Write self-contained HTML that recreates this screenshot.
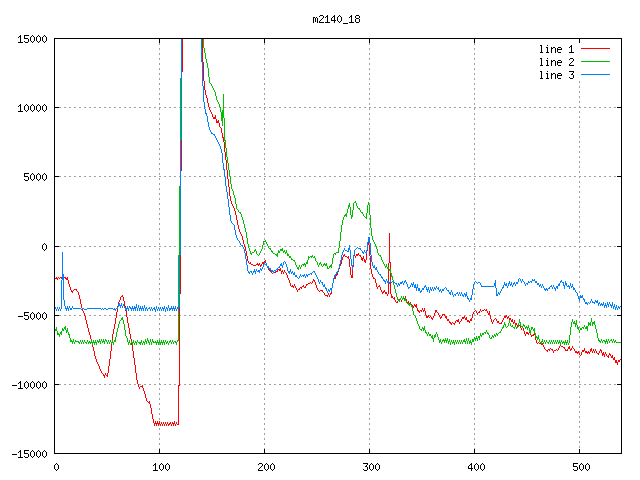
<!DOCTYPE html>
<html><head><meta charset="utf-8"><title>m2140_18</title>
<style>html,body{margin:0;padding:0;background:#ffffff;font-family:"Liberation Sans",sans-serif}svg{display:block}</style>
</head><body><svg width="640" height="480" viewBox="0 0 640 480" shape-rendering="crispEdges"><path fill="#a0a0a0" d="M264 43h1v2h-1zM369 43h1v2h-1zM474 43h1v2h-1zM159 43h1v2h-1zM264 48h1v2h-1zM369 48h1v2h-1zM474 48h1v2h-1zM159 48h1v2h-1zM264 53h1v2h-1zM369 53h1v2h-1zM474 53h1v2h-1zM159 53h1v2h-1zM264 58h1v2h-1zM369 58h1v2h-1zM474 58h1v2h-1zM159 58h1v2h-1zM264 63h1v2h-1zM369 63h1v2h-1zM474 63h1v2h-1zM159 63h1v2h-1zM264 68h1v2h-1zM369 68h1v2h-1zM474 68h1v2h-1zM159 68h1v2h-1zM264 73h1v2h-1zM369 73h1v2h-1zM474 73h1v2h-1zM159 73h1v2h-1zM264 78h1v2h-1zM369 78h1v2h-1zM474 78h1v2h-1zM159 78h1v2h-1zM579 81h1v2h-1zM264 83h1v2h-1zM369 83h1v2h-1zM474 83h1v2h-1zM159 83h1v2h-1zM579 86h1v2h-1zM264 88h1v2h-1zM369 88h1v2h-1zM474 88h1v2h-1zM159 88h1v2h-1zM579 91h1v2h-1zM264 93h1v2h-1zM369 93h1v2h-1zM474 93h1v2h-1zM159 93h1v2h-1zM579 96h1v2h-1zM264 98h1v2h-1zM369 98h1v2h-1zM474 98h1v2h-1zM159 98h1v2h-1zM579 101h1v2h-1zM264 103h1v2h-1zM369 103h1v2h-1zM474 103h1v2h-1zM159 103h1v2h-1zM579 106h1v1h-1zM454 107h2v1h-2zM509 107h2v1h-2zM519 107h2v1h-2zM574 107h2v1h-2zM234 107h2v1h-2zM244 107h2v1h-2zM299 107h2v1h-2zM79 107h2v1h-2zM359 107h2v1h-2zM369 107h2v1h-2zM424 107h2v1h-2zM484 107h2v1h-2zM94 107h2v1h-2zM149 107h2v1h-2zM214 107h2v1h-2zM494 107h2v1h-2zM549 107h2v1h-2zM554 107h2v1h-2zM609 107h2v1h-2zM274 107h2v1h-2zM339 107h2v1h-2zM334 107h2v1h-2zM389 107h2v1h-2zM399 107h2v1h-2zM64 107h2v1h-2zM119 107h2v1h-2zM59 107h2v1h-2zM124 107h2v1h-2zM210 107h1v1h-1zM404 107h2v1h-2zM459 107h2v1h-2zM514 107h2v1h-2zM524 107h2v1h-2zM579 107h2v1h-2zM189 107h2v1h-2zM184 107h2v1h-2zM249 107h2v1h-2zM304 107h2v1h-2zM84 107h2v1h-2zM584 107h2v1h-2zM594 107h2v1h-2zM314 107h2v1h-2zM319 107h2v1h-2zM374 107h2v1h-2zM429 107h2v1h-2zM489 107h2v1h-2zM99 107h2v1h-2zM154 107h2v1h-2zM164 107h2v1h-2zM499 107h2v1h-2zM559 107h2v1h-2zM614 107h2v1h-2zM279 107h2v1h-2zM224 107h2v1h-2zM344 107h2v1h-2zM289 107h2v1h-2zM284 107h2v1h-2zM69 107h2v1h-2zM129 107h2v1h-2zM205 107h1v1h-1zM469 107h2v1h-2zM409 107h2v1h-2zM464 107h2v1h-2zM474 107h2v1h-2zM529 107h2v1h-2zM139 107h2v1h-2zM194 107h2v1h-2zM134 107h2v1h-2zM254 107h2v1h-2zM309 107h2v1h-2zM179 107h1v1h-1zM589 107h2v1h-2zM599 107h2v1h-2zM324 107h2v1h-2zM379 107h2v1h-2zM434 107h2v1h-2zM444 107h2v1h-2zM439 107h2v1h-2zM104 107h2v1h-2zM159 107h2v1h-2zM169 107h2v1h-2zM449 107h2v1h-2zM504 107h2v1h-2zM569 107h2v1h-2zM564 107h2v1h-2zM219 107h1v1h-1zM229 107h2v1h-2zM239 107h2v1h-2zM294 107h2v1h-2zM349 107h2v1h-2zM354 107h2v1h-2zM74 107h2v1h-2zM364 107h2v1h-2zM419 107h2v1h-2zM414 107h2v1h-2zM479 107h2v1h-2zM534 107h2v1h-2zM144 107h2v1h-2zM89 107h2v1h-2zM199 107h2v1h-2zM264 107h2v1h-2zM259 107h2v1h-2zM544 107h2v1h-2zM539 107h2v1h-2zM604 107h2v1h-2zM269 107h2v1h-2zM329 107h2v1h-2zM384 107h2v1h-2zM394 107h2v1h-2zM114 107h2v1h-2zM109 107h2v1h-2zM174 107h2v1h-2zM264 108h1v2h-1zM369 108h1v2h-1zM474 108h1v2h-1zM159 108h1v2h-1zM579 111h1v2h-1zM264 113h1v2h-1zM369 113h1v2h-1zM474 113h1v2h-1zM159 113h1v2h-1zM579 116h1v2h-1zM264 118h1v2h-1zM369 118h1v2h-1zM474 118h1v2h-1zM159 118h1v2h-1zM579 121h1v2h-1zM264 123h1v2h-1zM369 123h1v2h-1zM474 123h1v2h-1zM159 123h1v2h-1zM579 126h1v2h-1zM264 128h1v2h-1zM369 128h1v2h-1zM474 128h1v2h-1zM159 128h1v2h-1zM579 131h1v2h-1zM264 133h1v2h-1zM369 133h1v2h-1zM474 133h1v2h-1zM159 133h1v2h-1zM579 136h1v2h-1zM264 138h1v2h-1zM369 138h1v2h-1zM474 138h1v2h-1zM159 138h1v2h-1zM579 141h1v2h-1zM264 143h1v2h-1zM369 143h1v2h-1zM474 143h1v2h-1zM159 143h1v2h-1zM579 146h1v2h-1zM264 148h1v2h-1zM369 148h1v2h-1zM474 148h1v2h-1zM159 148h1v2h-1zM579 151h1v2h-1zM264 153h1v2h-1zM369 153h1v2h-1zM474 153h1v2h-1zM159 153h1v2h-1zM579 156h1v2h-1zM264 158h1v2h-1zM369 158h1v2h-1zM474 158h1v2h-1zM159 158h1v2h-1zM579 161h1v2h-1zM264 163h1v2h-1zM369 163h1v2h-1zM474 163h1v2h-1zM159 163h1v2h-1zM579 166h1v2h-1zM264 168h1v2h-1zM369 168h1v2h-1zM474 168h1v2h-1zM159 168h1v2h-1zM579 171h1v2h-1zM264 173h1v2h-1zM369 173h1v2h-1zM474 173h1v2h-1zM159 173h1v2h-1zM454 176h2v1h-2zM509 176h2v1h-2zM519 176h2v1h-2zM574 176h2v1h-2zM234 176h2v1h-2zM244 176h2v1h-2zM299 176h2v1h-2zM79 176h2v1h-2zM229 176h1v1h-1zM359 176h2v1h-2zM369 176h2v1h-2zM424 176h2v1h-2zM225 176h1v1h-1zM484 176h2v1h-2zM94 176h2v1h-2zM149 176h2v1h-2zM214 176h2v1h-2zM209 176h2v1h-2zM494 176h2v1h-2zM549 176h2v1h-2zM554 176h2v1h-2zM609 176h2v1h-2zM274 176h2v1h-2zM339 176h2v1h-2zM334 176h2v1h-2zM389 176h2v1h-2zM399 176h2v1h-2zM64 176h2v1h-2zM119 176h2v1h-2zM59 176h2v1h-2zM124 176h2v1h-2zM404 176h2v1h-2zM459 176h2v1h-2zM514 176h2v1h-2zM524 176h2v1h-2zM579 176h2v1h-2zM189 176h2v1h-2zM184 176h2v1h-2zM249 176h2v1h-2zM304 176h2v1h-2zM84 176h2v1h-2zM584 176h2v1h-2zM594 176h2v1h-2zM314 176h2v1h-2zM319 176h2v1h-2zM374 176h2v1h-2zM429 176h2v1h-2zM489 176h2v1h-2zM99 176h2v1h-2zM154 176h2v1h-2zM164 176h2v1h-2zM219 176h2v1h-2zM499 176h2v1h-2zM559 176h2v1h-2zM614 176h2v1h-2zM279 176h2v1h-2zM344 176h2v1h-2zM289 176h2v1h-2zM284 176h2v1h-2zM69 176h2v1h-2zM129 176h2v1h-2zM469 176h2v1h-2zM409 176h2v1h-2zM464 176h2v1h-2zM474 176h2v1h-2zM529 176h2v1h-2zM139 176h2v1h-2zM194 176h2v1h-2zM134 176h2v1h-2zM254 176h2v1h-2zM309 176h2v1h-2zM179 176h1v1h-1zM589 176h2v1h-2zM599 176h2v1h-2zM324 176h2v1h-2zM379 176h2v1h-2zM434 176h2v1h-2zM444 176h2v1h-2zM439 176h2v1h-2zM104 176h2v1h-2zM159 176h2v1h-2zM169 176h2v1h-2zM449 176h2v1h-2zM504 176h2v1h-2zM569 176h2v1h-2zM564 176h2v1h-2zM239 176h2v1h-2zM294 176h2v1h-2zM349 176h2v1h-2zM354 176h2v1h-2zM74 176h2v1h-2zM364 176h2v1h-2zM419 176h2v1h-2zM414 176h2v1h-2zM479 176h2v1h-2zM534 176h2v1h-2zM144 176h2v1h-2zM89 176h2v1h-2zM199 176h2v1h-2zM264 176h2v1h-2zM204 176h2v1h-2zM259 176h2v1h-2zM544 176h2v1h-2zM539 176h2v1h-2zM604 176h2v1h-2zM269 176h2v1h-2zM329 176h2v1h-2zM384 176h2v1h-2zM394 176h2v1h-2zM114 176h2v1h-2zM109 176h2v1h-2zM174 176h2v1h-2zM579 177h1v1h-1zM264 178h1v2h-1zM369 178h1v2h-1zM474 178h1v2h-1zM159 178h1v2h-1zM579 181h1v2h-1zM264 183h1v2h-1zM369 183h1v2h-1zM474 183h1v2h-1zM159 183h1v2h-1zM579 186h1v2h-1zM264 188h1v2h-1zM369 188h1v2h-1zM474 188h1v2h-1zM159 188h1v2h-1zM579 191h1v2h-1zM264 193h1v2h-1zM369 193h1v2h-1zM474 193h1v2h-1zM159 193h1v2h-1zM579 196h1v2h-1zM264 198h1v2h-1zM369 198h1v2h-1zM474 198h1v2h-1zM159 198h1v2h-1zM579 201h1v2h-1zM264 203h1v2h-1zM369 203h1v2h-1zM474 203h1v2h-1zM159 203h1v2h-1zM579 206h1v2h-1zM264 208h1v2h-1zM474 208h1v2h-1zM159 208h1v2h-1zM579 211h1v2h-1zM264 213h1v2h-1zM474 213h1v2h-1zM159 213h1v2h-1zM579 216h1v2h-1zM264 218h1v2h-1zM369 218h1v2h-1zM474 218h1v2h-1zM159 218h1v2h-1zM579 221h1v2h-1zM264 223h1v2h-1zM369 223h1v2h-1zM474 223h1v2h-1zM159 223h1v2h-1zM579 226h1v2h-1zM264 228h1v2h-1zM369 228h1v2h-1zM474 228h1v2h-1zM159 228h1v2h-1zM579 231h1v2h-1zM264 233h1v2h-1zM369 233h1v2h-1zM474 233h1v2h-1zM159 233h1v2h-1zM579 236h1v2h-1zM264 238h1v2h-1zM474 238h1v2h-1zM159 238h1v2h-1zM579 241h1v2h-1zM264 243h1v2h-1zM369 243h1v2h-1zM474 243h1v2h-1zM159 243h1v2h-1zM454 246h2v1h-2zM509 246h2v1h-2zM519 246h2v1h-2zM574 246h2v1h-2zM234 246h2v1h-2zM299 246h2v1h-2zM79 246h2v1h-2zM359 246h2v1h-2zM424 246h2v1h-2zM484 246h2v1h-2zM94 246h2v1h-2zM149 246h2v1h-2zM214 246h2v1h-2zM209 246h2v1h-2zM494 246h2v1h-2zM549 246h2v1h-2zM350 246h1v1h-1zM554 246h2v1h-2zM609 246h2v1h-2zM274 246h2v1h-2zM334 246h2v1h-2zM399 246h2v1h-2zM64 246h2v1h-2zM119 246h2v1h-2zM59 246h2v1h-2zM124 246h2v1h-2zM404 246h2v1h-2zM459 246h2v1h-2zM514 246h2v1h-2zM524 246h2v1h-2zM579 246h2v1h-2zM189 246h2v1h-2zM184 246h2v1h-2zM249 246h2v1h-2zM304 246h2v1h-2zM390 246h1v1h-1zM84 246h2v1h-2zM584 246h2v1h-2zM594 246h2v1h-2zM314 246h2v1h-2zM319 246h2v1h-2zM374 246h2v1h-2zM429 246h2v1h-2zM489 246h2v1h-2zM99 246h2v1h-2zM154 246h2v1h-2zM164 246h2v1h-2zM219 246h2v1h-2zM499 246h2v1h-2zM559 246h2v1h-2zM614 246h2v1h-2zM279 246h2v1h-2zM224 246h2v1h-2zM344 246h2v1h-2zM289 246h2v1h-2zM284 246h2v1h-2zM69 246h2v1h-2zM129 246h2v1h-2zM469 246h2v1h-2zM409 246h2v1h-2zM464 246h2v1h-2zM474 246h2v1h-2zM529 246h2v1h-2zM139 246h2v1h-2zM194 246h2v1h-2zM134 246h2v1h-2zM254 246h2v1h-2zM309 246h2v1h-2zM340 246h1v1h-1zM589 246h2v1h-2zM599 246h2v1h-2zM324 246h2v1h-2zM379 246h2v1h-2zM434 246h2v1h-2zM444 246h2v1h-2zM245 246h1v1h-1zM439 246h2v1h-2zM104 246h2v1h-2zM159 246h2v1h-2zM169 246h2v1h-2zM449 246h2v1h-2zM504 246h2v1h-2zM569 246h2v1h-2zM564 246h2v1h-2zM229 246h2v1h-2zM239 246h2v1h-2zM294 246h2v1h-2zM354 246h2v1h-2zM74 246h2v1h-2zM364 246h2v1h-2zM419 246h2v1h-2zM414 246h2v1h-2zM479 246h2v1h-2zM534 246h2v1h-2zM144 246h2v1h-2zM89 246h2v1h-2zM199 246h2v1h-2zM264 246h2v1h-2zM204 246h2v1h-2zM259 246h2v1h-2zM544 246h2v1h-2zM539 246h2v1h-2zM604 246h2v1h-2zM269 246h2v1h-2zM329 246h2v1h-2zM384 246h2v1h-2zM394 246h2v1h-2zM114 246h2v1h-2zM109 246h2v1h-2zM174 246h2v1h-2zM579 247h1v1h-1zM264 248h1v2h-1zM474 248h1v2h-1zM159 248h1v2h-1zM579 251h1v2h-1zM264 253h1v2h-1zM474 253h1v2h-1zM159 253h1v2h-1zM579 256h1v2h-1zM264 258h1v2h-1zM369 258h1v2h-1zM474 258h1v2h-1zM159 258h1v2h-1zM579 261h1v2h-1zM369 263h1v2h-1zM474 263h1v2h-1zM159 263h1v2h-1zM264 264h1v1h-1zM579 266h1v2h-1zM264 268h1v2h-1zM369 268h1v2h-1zM474 268h1v2h-1zM159 268h1v2h-1zM579 271h1v2h-1zM264 273h1v2h-1zM369 273h1v2h-1zM474 273h1v2h-1zM159 273h1v2h-1zM579 276h1v2h-1zM264 278h1v2h-1zM369 278h1v2h-1zM474 278h1v2h-1zM159 278h1v2h-1zM579 281h1v2h-1zM264 283h1v2h-1zM369 283h1v2h-1zM159 283h1v2h-1zM474 284h1v1h-1zM579 286h1v2h-1zM264 288h1v2h-1zM369 288h1v2h-1zM474 288h1v2h-1zM159 288h1v2h-1zM579 291h1v2h-1zM264 293h1v2h-1zM369 293h1v2h-1zM474 293h1v2h-1zM159 293h1v2h-1zM579 296h1v2h-1zM264 298h1v2h-1zM369 298h1v2h-1zM474 298h1v2h-1zM159 298h1v2h-1zM579 301h1v2h-1zM264 303h1v2h-1zM369 303h1v2h-1zM474 303h1v2h-1zM159 303h1v2h-1zM579 306h1v2h-1zM159 308h1v1h-1zM264 308h1v2h-1zM369 308h1v2h-1zM474 308h1v2h-1zM579 311h1v2h-1zM264 313h1v2h-1zM369 313h1v2h-1zM474 313h1v2h-1zM159 313h1v2h-1zM489 315h1v1h-1zM454 315h2v1h-2zM509 315h2v1h-2zM519 315h2v1h-2zM574 315h2v1h-2zM234 315h2v1h-2zM244 315h2v1h-2zM299 315h2v1h-2zM79 315h2v1h-2zM445 315h1v1h-1zM359 315h2v1h-2zM369 315h2v1h-2zM424 315h2v1h-2zM484 315h2v1h-2zM94 315h2v1h-2zM149 315h2v1h-2zM214 315h2v1h-2zM209 315h2v1h-2zM494 315h2v1h-2zM549 315h2v1h-2zM415 315h1v1h-1zM554 315h2v1h-2zM609 315h2v1h-2zM274 315h2v1h-2zM339 315h2v1h-2zM85 315h1v1h-1zM334 315h2v1h-2zM389 315h2v1h-2zM399 315h2v1h-2zM64 315h2v1h-2zM119 315h2v1h-2zM59 315h2v1h-2zM124 315h2v1h-2zM404 315h2v1h-2zM459 315h2v1h-2zM514 315h2v1h-2zM524 315h2v1h-2zM579 315h2v1h-2zM189 315h2v1h-2zM184 315h2v1h-2zM249 315h2v1h-2zM304 315h2v1h-2zM584 315h2v1h-2zM594 315h2v1h-2zM314 315h2v1h-2zM319 315h2v1h-2zM374 315h2v1h-2zM429 315h2v1h-2zM99 315h2v1h-2zM154 315h2v1h-2zM164 315h2v1h-2zM219 315h2v1h-2zM499 315h2v1h-2zM559 315h2v1h-2zM614 315h2v1h-2zM279 315h2v1h-2zM224 315h2v1h-2zM344 315h2v1h-2zM289 315h2v1h-2zM284 315h2v1h-2zM69 315h2v1h-2zM435 315h1v1h-1zM129 315h2v1h-2zM469 315h2v1h-2zM409 315h2v1h-2zM464 315h2v1h-2zM474 315h2v1h-2zM529 315h2v1h-2zM139 315h2v1h-2zM194 315h2v1h-2zM134 315h2v1h-2zM254 315h2v1h-2zM309 315h2v1h-2zM589 315h2v1h-2zM599 315h2v1h-2zM324 315h2v1h-2zM379 315h2v1h-2zM180 315h1v1h-1zM104 315h2v1h-2zM159 315h2v1h-2zM169 315h2v1h-2zM449 315h2v1h-2zM504 315h2v1h-2zM569 315h2v1h-2zM564 315h2v1h-2zM229 315h2v1h-2zM239 315h2v1h-2zM294 315h2v1h-2zM349 315h2v1h-2zM354 315h2v1h-2zM74 315h2v1h-2zM440 315h1v1h-1zM364 315h2v1h-2zM419 315h2v1h-2zM479 315h2v1h-2zM534 315h2v1h-2zM144 315h2v1h-2zM89 315h2v1h-2zM199 315h2v1h-2zM264 315h2v1h-2zM204 315h2v1h-2zM259 315h2v1h-2zM544 315h2v1h-2zM539 315h2v1h-2zM604 315h2v1h-2zM269 315h2v1h-2zM329 315h2v1h-2zM384 315h2v1h-2zM394 315h2v1h-2zM114 315h2v1h-2zM109 315h2v1h-2zM174 315h2v1h-2zM579 316h1v2h-1zM264 318h1v2h-1zM369 318h1v2h-1zM474 318h1v2h-1zM159 318h1v2h-1zM579 321h1v2h-1zM264 323h1v2h-1zM369 323h1v2h-1zM474 323h1v2h-1zM159 323h1v2h-1zM579 326h1v2h-1zM264 328h1v2h-1zM369 328h1v2h-1zM474 328h1v2h-1zM159 328h1v2h-1zM264 333h1v2h-1zM369 333h1v2h-1zM474 333h1v2h-1zM159 333h1v2h-1zM579 336h1v2h-1zM264 338h1v2h-1zM369 338h1v2h-1zM159 338h1v2h-1zM474 339h1v1h-1zM579 341h1v2h-1zM264 343h1v2h-1zM369 343h1v2h-1zM474 343h1v2h-1zM159 343h1v2h-1zM579 346h1v2h-1zM264 348h1v2h-1zM369 348h1v2h-1zM474 348h1v2h-1zM159 348h1v2h-1zM579 351h1v2h-1zM264 353h1v2h-1zM369 353h1v2h-1zM474 353h1v2h-1zM159 353h1v2h-1zM579 356h1v2h-1zM264 358h1v2h-1zM369 358h1v2h-1zM474 358h1v2h-1zM159 358h1v2h-1zM579 361h1v2h-1zM264 363h1v2h-1zM369 363h1v2h-1zM474 363h1v2h-1zM159 363h1v2h-1zM579 366h1v2h-1zM264 368h1v2h-1zM369 368h1v2h-1zM474 368h1v2h-1zM159 368h1v2h-1zM579 371h1v2h-1zM264 373h1v2h-1zM369 373h1v2h-1zM474 373h1v2h-1zM159 373h1v2h-1zM579 376h1v2h-1zM264 378h1v2h-1zM369 378h1v2h-1zM474 378h1v2h-1zM159 378h1v2h-1zM579 381h1v2h-1zM264 383h1v1h-1zM369 383h1v1h-1zM474 383h1v1h-1zM159 383h1v1h-1zM454 384h2v1h-2zM509 384h2v1h-2zM519 384h2v1h-2zM574 384h2v1h-2zM234 384h2v1h-2zM244 384h2v1h-2zM299 384h2v1h-2zM79 384h2v1h-2zM359 384h2v1h-2zM369 384h2v1h-2zM424 384h2v1h-2zM484 384h2v1h-2zM94 384h2v1h-2zM149 384h2v1h-2zM214 384h2v1h-2zM209 384h2v1h-2zM494 384h2v1h-2zM549 384h2v1h-2zM554 384h2v1h-2zM609 384h2v1h-2zM274 384h2v1h-2zM339 384h2v1h-2zM334 384h2v1h-2zM389 384h2v1h-2zM399 384h2v1h-2zM64 384h2v1h-2zM119 384h2v1h-2zM59 384h2v1h-2zM124 384h2v1h-2zM404 384h2v1h-2zM459 384h2v1h-2zM514 384h2v1h-2zM524 384h2v1h-2zM579 384h2v1h-2zM189 384h2v1h-2zM184 384h2v1h-2zM249 384h2v1h-2zM304 384h2v1h-2zM84 384h2v1h-2zM584 384h2v1h-2zM594 384h2v1h-2zM314 384h2v1h-2zM319 384h2v1h-2zM374 384h2v1h-2zM429 384h2v1h-2zM489 384h2v1h-2zM99 384h2v1h-2zM154 384h2v1h-2zM164 384h2v1h-2zM219 384h2v1h-2zM499 384h2v1h-2zM559 384h2v1h-2zM614 384h2v1h-2zM279 384h2v1h-2zM224 384h2v1h-2zM344 384h2v1h-2zM289 384h2v1h-2zM284 384h2v1h-2zM69 384h2v1h-2zM129 384h2v1h-2zM469 384h2v1h-2zM409 384h2v1h-2zM464 384h2v1h-2zM474 384h2v1h-2zM529 384h2v1h-2zM139 384h2v1h-2zM194 384h2v1h-2zM134 384h2v1h-2zM254 384h2v1h-2zM309 384h2v1h-2zM589 384h2v1h-2zM599 384h2v1h-2zM324 384h2v1h-2zM379 384h2v1h-2zM180 384h1v1h-1zM434 384h2v1h-2zM444 384h2v1h-2zM439 384h2v1h-2zM104 384h2v1h-2zM159 384h2v1h-2zM169 384h2v1h-2zM449 384h2v1h-2zM504 384h2v1h-2zM569 384h2v1h-2zM564 384h2v1h-2zM229 384h2v1h-2zM239 384h2v1h-2zM294 384h2v1h-2zM349 384h2v1h-2zM354 384h2v1h-2zM74 384h2v1h-2zM364 384h2v1h-2zM419 384h2v1h-2zM414 384h2v1h-2zM479 384h2v1h-2zM534 384h2v1h-2zM144 384h2v1h-2zM89 384h2v1h-2zM199 384h2v1h-2zM264 384h2v1h-2zM204 384h2v1h-2zM259 384h2v1h-2zM544 384h2v1h-2zM539 384h2v1h-2zM604 384h2v1h-2zM269 384h2v1h-2zM329 384h2v1h-2zM384 384h2v1h-2zM394 384h2v1h-2zM114 384h2v1h-2zM109 384h2v1h-2zM174 384h2v1h-2zM579 386h1v2h-1zM264 388h1v2h-1zM369 388h1v2h-1zM474 388h1v2h-1zM159 388h1v2h-1zM579 391h1v2h-1zM264 393h1v2h-1zM369 393h1v2h-1zM474 393h1v2h-1zM159 393h1v2h-1zM579 396h1v2h-1zM264 398h1v2h-1zM369 398h1v2h-1zM474 398h1v2h-1zM159 398h1v2h-1zM579 401h1v2h-1zM264 403h1v2h-1zM369 403h1v2h-1zM474 403h1v2h-1zM159 403h1v2h-1zM579 406h1v2h-1zM264 408h1v2h-1zM369 408h1v2h-1zM474 408h1v2h-1zM159 408h1v2h-1zM579 411h1v2h-1zM264 413h1v2h-1zM369 413h1v2h-1zM474 413h1v2h-1zM159 413h1v2h-1zM579 416h1v2h-1zM264 418h1v2h-1zM369 418h1v2h-1zM474 418h1v2h-1zM159 418h1v2h-1zM579 421h1v2h-1zM264 423h1v2h-1zM369 423h1v2h-1zM474 423h1v2h-1zM159 424h1v1h-1zM579 426h1v2h-1zM264 428h1v2h-1zM369 428h1v2h-1zM474 428h1v2h-1zM159 428h1v2h-1zM579 431h1v2h-1zM264 433h1v2h-1zM369 433h1v2h-1zM474 433h1v2h-1zM159 433h1v2h-1zM579 436h1v2h-1zM264 438h1v2h-1zM369 438h1v2h-1zM474 438h1v2h-1zM159 438h1v2h-1zM579 441h1v2h-1zM264 443h1v2h-1zM369 443h1v2h-1zM474 443h1v2h-1zM159 443h1v2h-1zM579 446h1v2h-1zM264 448h1v1h-1zM369 448h1v1h-1zM474 448h1v1h-1zM159 448h1v1h-1z"/><path fill="#ff0000" d="M581 48h29v1h-29zM202 39h1v23h-1zM182 39h1v33h-1zM203 62h1v19h-1zM204 81h1v9h-1zM205 90h1v5h-1zM206 95h1v3h-1zM207 98h1v5h-1zM208 103h1v4h-1zM209 107h1v3h-1zM210 110h1v2h-1zM211 112h1v2h-1zM212 114h1v3h-1zM215 115h1v2h-1zM213 117h3v2h-3zM216 119h1v2h-1zM218 120h1v1h-1zM216 121h3v2h-3zM219 123h1v4h-1zM220 127h1v1h-1zM221 128h1v5h-1zM222 133h1v4h-1zM222 137h2v1h-2zM223 138h1v4h-1zM224 142h1v10h-1zM225 152h1v8h-1zM226 160h1v10h-1zM181 140h1v31h-1zM227 170h1v9h-1zM228 179h1v8h-1zM229 187h1v9h-1zM230 196h1v5h-1zM231 201h1v3h-1zM232 204h1v2h-1zM233 206h1v2h-1zM234 208h1v3h-1zM235 211h1v4h-1zM236 215h1v5h-1zM237 220h1v5h-1zM238 225h1v4h-1zM239 229h1v3h-1zM240 232h1v2h-1zM241 234h1v2h-1zM242 236h1v4h-1zM243 240h1v4h-1zM368 242h1v3h-1zM244 244h1v3h-1zM245 247h1v4h-1zM367 250h1v1h-1zM358 253h1v1h-1zM344 254h1v1h-1zM356 254h3v1h-3zM369 245h1v11h-1zM246 251h1v5h-1zM354 255h1v1h-1zM356 255h2v1h-2zM343 255h2v1h-2zM359 255h2v1h-2zM343 256h1v1h-1zM360 256h1v1h-1zM345 256h2v1h-2zM348 256h1v1h-1zM363 256h1v2h-1zM355 256h1v2h-1zM361 257h1v1h-1zM347 257h2v1h-2zM361 258h3v1h-3zM348 258h1v1h-1zM366 254h1v6h-1zM342 257h1v3h-1zM361 259h2v1h-2zM364 259h1v1h-1zM247 256h1v5h-1zM362 260h1v1h-1zM265 260h1v1h-1zM389 233h1v29h-1zM364 260h2v2h-2zM264 261h2v1h-2zM248 261h1v2h-1zM365 262h1v1h-1zM265 262h1v1h-1zM389 262h2v1h-2zM250 262h1v1h-1zM341 260h1v4h-1zM262 262h2v2h-2zM249 263h2v1h-2zM257 263h1v1h-1zM259 263h1v1h-1zM251 264h2v1h-2zM256 264h4v1h-4zM261 264h1v1h-1zM340 264h1v2h-1zM260 265h2v1h-2zM253 265h3v1h-3zM258 265h1v1h-1zM349 259h1v8h-1zM388 263h1v4h-1zM353 265h1v2h-1zM260 266h1v1h-1zM370 256h1v13h-1zM390 263h1v6h-1zM339 268h1v1h-1zM280 268h1v1h-1zM268 268h1v2h-1zM278 269h3v1h-3zM269 270h2v1h-2zM277 270h1v1h-1zM282 270h1v1h-1zM279 270h2v1h-2zM284 270h1v2h-1zM270 271h1v1h-1zM281 271h2v1h-2zM338 271h1v1h-1zM276 271h2v1h-2zM274 272h2v1h-2zM285 272h1v1h-1zM271 272h1v1h-1zM371 269h1v5h-1zM283 272h1v2h-1zM281 272h1v2h-1zM272 273h1v1h-1zM337 273h1v1h-1zM350 267h1v8h-1zM352 270h1v5h-1zM286 273h1v2h-1zM336 274h2v1h-2zM336 275h1v1h-1zM372 274h1v3h-1zM351 275h2v3h-2zM287 275h1v3h-1zM335 276h1v2h-1zM64 277h2v1h-2zM67 277h1v1h-1zM58 277h1v1h-1zM373 277h1v1h-1zM60 277h2v1h-2zM56 277h1v1h-1zM61 278h1v1h-1zM65 278h3v1h-3zM59 278h1v1h-1zM55 278h3v1h-3zM334 278h2v1h-2zM373 278h2v1h-2zM390 273h1v7h-1zM288 278h1v2h-1zM66 279h2v1h-2zM57 279h1v1h-1zM313 279h1v1h-1zM388 269h1v12h-1zM313 280h2v1h-2zM314 281h1v1h-1zM375 279h1v4h-1zM289 280h1v3h-1zM312 281h1v2h-1zM310 282h1v1h-1zM68 280h1v4h-1zM311 283h1v1h-1zM308 283h2v1h-2zM315 282h1v3h-1zM306 284h2v1h-2zM290 283h1v3h-1zM294 284h1v2h-1zM306 285h1v1h-1zM303 285h1v1h-1zM379 285h1v1h-1zM292 285h1v1h-1zM376 283h1v4h-1zM69 284h1v3h-1zM302 286h2v1h-2zM378 286h2v1h-2zM291 286h3v1h-3zM305 286h1v1h-1zM316 285h1v3h-1zM295 286h1v2h-1zM300 287h2v1h-2zM304 287h2v1h-2zM293 287h1v1h-1zM377 287h1v2h-1zM299 288h1v1h-1zM301 288h1v1h-1zM70 287h1v3h-1zM380 287h1v3h-1zM317 288h1v2h-1zM296 288h1v2h-1zM74 289h3v1h-3zM298 289h2v1h-2zM320 290h3v1h-3zM73 290h1v1h-1zM384 290h1v1h-1zM76 290h1v1h-1zM318 290h1v1h-1zM71 290h1v1h-1zM381 290h1v2h-1zM297 290h1v2h-1zM383 291h2v1h-2zM77 291h1v1h-1zM71 291h2v1h-2zM322 291h1v1h-1zM319 291h1v1h-1zM72 292h1v1h-1zM331 292h1v1h-1zM382 292h2v1h-2zM323 292h1v1h-1zM180 255h1v39h-1zM390 282h1v12h-1zM388 283h1v11h-1zM385 292h2v2h-2zM330 293h2v1h-2zM382 293h1v1h-1zM78 292h1v3h-1zM324 293h1v2h-1zM328 293h1v2h-1zM330 294h1v1h-1zM391 294h1v2h-1zM387 294h1v2h-1zM325 295h3v1h-3zM122 295h1v1h-1zM329 295h1v2h-1zM121 296h2v1h-2zM327 296h1v1h-1zM391 296h2v2h-2zM405 296h1v2h-1zM394 297h1v1h-1zM79 295h1v4h-1zM404 298h1v1h-1zM393 298h2v1h-2zM120 297h1v3h-1zM399 299h1v1h-1zM394 299h1v1h-1zM123 297h1v4h-1zM406 299h1v2h-1zM395 300h1v2h-1zM119 300h1v2h-1zM401 300h1v2h-1zM408 301h1v1h-1zM397 301h1v1h-1zM407 302h2v1h-2zM396 302h2v1h-2zM410 302h1v1h-1zM80 299h1v5h-1zM118 302h1v2h-1zM409 303h1v1h-1zM414 304h1v1h-1zM416 304h1v1h-1zM411 304h1v1h-1zM124 301h1v5h-1zM412 305h1v1h-1zM414 305h3v1h-3zM412 306h2v1h-2zM415 306h2v1h-2zM117 306h1v1h-1zM81 304h1v4h-1zM125 306h1v2h-1zM416 307h1v1h-1zM413 307h1v1h-1zM424 308h1v2h-1zM422 308h1v2h-1zM417 308h1v2h-1zM486 309h1v1h-1zM484 309h1v1h-1zM82 309h1v2h-1zM480 309h1v2h-1zM423 310h2v1h-2zM125 310h1v1h-1zM475 310h1v1h-1zM420 310h2v1h-2zM482 310h2v1h-2zM485 310h2v1h-2zM417 310h2v1h-2zM117 309h1v3h-1zM435 310h2v2h-2zM479 311h1v1h-1zM423 311h1v1h-1zM418 311h2v1h-2zM481 311h1v1h-1zM474 311h1v1h-1zM421 311h1v1h-1zM489 311h1v2h-1zM83 311h1v2h-1zM487 311h1v2h-1zM476 311h1v2h-1zM478 312h2v1h-2zM437 312h1v1h-1zM435 312h1v1h-1zM419 312h1v1h-1zM473 312h1v2h-1zM425 311h1v4h-1zM477 313h1v2h-1zM438 313h1v2h-1zM488 313h2v2h-2zM442 314h3v1h-3zM434 313h1v3h-1zM84 313h1v3h-1zM444 315h1v1h-1zM426 315h1v1h-1zM442 315h1v1h-1zM506 315h1v1h-1zM428 315h1v1h-1zM126 311h1v6h-1zM439 315h1v2h-1zM508 316h1v1h-1zM464 316h1v1h-1zM504 316h3v1h-3zM426 316h3v1h-3zM441 316h1v1h-1zM430 316h1v1h-1zM116 312h1v6h-1zM472 314h1v4h-1zM433 316h1v2h-1zM445 316h2v2h-2zM507 317h2v1h-2zM431 317h1v1h-1zM440 317h2v1h-2zM429 317h1v1h-1zM462 317h3v1h-3zM504 317h2v1h-2zM466 317h1v1h-1zM426 317h2v1h-2zM490 315h1v4h-1zM440 318h1v1h-1zM462 318h2v1h-2zM495 318h1v1h-1zM471 318h1v1h-1zM446 318h1v1h-1zM507 318h1v1h-1zM431 318h2v1h-2zM85 316h1v4h-1zM465 318h2v2h-2zM509 318h2v2h-2zM503 318h1v2h-1zM494 319h1v1h-1zM458 319h1v1h-1zM512 319h1v1h-1zM432 319h1v1h-1zM447 319h2v2h-2zM461 319h1v2h-1zM470 319h2v2h-2zM496 319h1v2h-1zM467 320h2v1h-2zM456 320h3v1h-3zM491 319h1v3h-1zM502 320h1v2h-1zM493 320h1v2h-1zM511 320h2v2h-2zM514 320h1v2h-1zM467 321h3v1h-3zM449 321h1v1h-1zM457 321h2v1h-2zM460 321h1v1h-1zM127 317h1v6h-1zM455 321h1v2h-1zM497 321h2v2h-2zM501 322h1v1h-1zM469 322h1v1h-1zM513 322h2v1h-2zM452 322h1v1h-1zM449 322h2v1h-2zM115 318h1v6h-1zM86 320h1v4h-1zM492 322h1v2h-1zM459 322h1v2h-1zM513 323h1v1h-1zM450 323h2v1h-2zM453 323h2v1h-2zM499 323h3v1h-3zM515 323h2v2h-2zM454 324h1v1h-1zM451 324h1v1h-1zM519 325h1v1h-1zM517 325h1v2h-1zM128 323h1v5h-1zM87 324h1v4h-1zM520 326h1v2h-1zM114 324h1v5h-1zM521 328h1v2h-1zM523 328h1v3h-1zM88 328h1v4h-1zM529 332h1v1h-1zM526 332h2v1h-2zM129 328h1v6h-1zM113 329h1v5h-1zM524 331h1v3h-1zM526 333h3v1h-3zM534 333h1v1h-1zM89 332h1v3h-1zM528 334h1v1h-1zM533 334h2v1h-2zM530 334h1v1h-1zM525 334h1v2h-1zM531 335h3v1h-3zM531 336h1v1h-1zM130 334h1v5h-1zM90 335h1v4h-1zM112 334h1v6h-1zM535 337h1v3h-1zM91 339h1v1h-1zM131 339h1v2h-1zM536 340h1v3h-1zM538 342h1v1h-1zM542 343h1v1h-1zM539 343h2v1h-2zM537 343h1v1h-1zM131 343h1v2h-1zM541 344h2v1h-2zM560 345h1v1h-1zM543 345h1v2h-1zM92 345h1v2h-1zM561 346h2v1h-2zM569 346h1v1h-1zM559 346h1v2h-1zM572 346h1v2h-1zM563 347h2v1h-2zM544 347h1v2h-1zM568 347h2v2h-2zM550 348h1v1h-1zM571 348h1v1h-1zM564 348h1v1h-1zM591 348h1v1h-1zM573 348h1v1h-1zM584 348h1v2h-1zM558 348h1v2h-1zM551 349h2v1h-2zM565 349h1v1h-1zM570 349h2v1h-2zM600 349h1v1h-1zM548 349h2v1h-2zM545 349h1v1h-1zM567 349h1v1h-1zM556 349h1v1h-1zM111 344h1v7h-1zM132 345h1v6h-1zM93 347h1v4h-1zM590 349h2v2h-2zM593 349h1v2h-1zM574 349h1v2h-1zM595 349h1v2h-1zM546 350h2v1h-2zM549 350h1v1h-1zM554 350h2v1h-2zM582 350h3v1h-3zM600 350h2v1h-2zM565 350h3v1h-3zM552 350h1v1h-1zM570 350h1v1h-1zM557 350h1v1h-1zM588 351h1v1h-1zM578 351h1v1h-1zM585 351h2v1h-2zM582 351h2v1h-2zM590 351h1v1h-1zM547 351h1v1h-1zM575 351h2v1h-2zM553 351h1v2h-1zM601 351h1v2h-1zM594 351h1v2h-1zM596 351h1v2h-1zM592 351h1v2h-1zM599 351h1v2h-1zM575 352h4v1h-4zM603 352h1v1h-1zM585 352h5v1h-5zM605 352h1v2h-1zM602 353h2v1h-2zM587 353h1v1h-1zM609 353h1v1h-1zM589 353h1v1h-1zM597 353h2v1h-2zM577 353h1v1h-1zM581 352h1v3h-1zM579 353h1v2h-1zM602 354h3v1h-3zM609 354h2v1h-2zM598 354h1v1h-1zM94 351h1v5h-1zM606 354h1v2h-1zM580 355h1v1h-1zM602 355h1v1h-1zM608 355h1v1h-1zM612 355h1v1h-1zM610 355h1v1h-1zM604 355h1v2h-1zM607 356h2v1h-2zM133 351h1v7h-1zM611 356h2v2h-2zM608 357h1v1h-1zM614 357h1v1h-1zM110 351h1v8h-1zM95 356h1v3h-1zM613 358h2v2h-2zM620 359h1v1h-1zM96 359h1v3h-1zM618 360h2v2h-2zM615 360h2v2h-2zM615 362h3v1h-3zM97 362h1v2h-1zM134 358h1v7h-1zM617 363h1v2h-1zM109 359h1v7h-1zM98 364h1v2h-1zM99 366h1v3h-1zM100 369h1v2h-1zM135 365h1v8h-1zM108 366h1v7h-1zM101 371h1v2h-1zM102 373h1v1h-1zM105 373h1v2h-1zM107 373h1v2h-1zM103 374h1v1h-1zM106 375h2v1h-2zM103 375h2v1h-2zM107 376h1v1h-1zM104 376h1v2h-1zM136 373h1v7h-1zM137 380h1v4h-1zM179 307h1v78h-1zM142 385h1v1h-1zM178 385h2v1h-2zM138 384h1v3h-1zM140 386h3v1h-3zM142 387h1v1h-1zM139 387h1v2h-1zM143 388h1v3h-1zM144 391h1v3h-1zM145 394h1v4h-1zM146 398h1v3h-1zM147 401h1v1h-1zM149 401h1v1h-1zM148 402h2v1h-2zM149 403h1v1h-1zM150 404h1v4h-1zM151 408h1v6h-1zM152 414h1v5h-1zM153 419h1v4h-1zM174 421h1v2h-1zM157 421h1v2h-1zM159 421h1v2h-1zM155 421h1v2h-1zM172 422h1v1h-1zM170 422h1v1h-1zM178 386h1v38h-1zM163 422h1v2h-1zM167 422h1v2h-1zM176 422h1v2h-1zM165 422h1v2h-1zM161 422h1v2h-1zM172 423h3v1h-3zM169 423h2v1h-2zM154 423h6v1h-6zM168 424h2v1h-2zM177 424h2v1h-2zM154 424h1v2h-1zM160 424h1v2h-1zM164 424h1v2h-1zM173 424h1v2h-1zM166 424h1v2h-1zM175 424h1v2h-1zM156 424h1v2h-1zM158 424h1v2h-1zM162 424h1v2h-1zM171 424h1v2h-1zM168 425h1v1h-1z"/><path fill="#00c000" d="M203 39h1v9h-1zM204 48h1v5h-1zM205 53h1v6h-1zM581 61h29v1h-29zM206 59h1v4h-1zM207 63h1v5h-1zM208 68h1v9h-1zM209 77h1v6h-1zM210 83h1v1h-1zM211 84h1v2h-1zM212 86h1v2h-1zM213 88h1v2h-1zM214 90h1v2h-1zM215 92h1v4h-1zM216 96h1v4h-1zM217 100h1v2h-1zM218 102h1v2h-1zM219 104h1v3h-1zM223 94h1v16h-1zM220 107h1v5h-1zM222 110h2v2h-2zM221 112h3v6h-3zM221 118h2v3h-2zM222 121h1v5h-1zM180 78h1v62h-1zM224 118h1v22h-1zM224 140h2v1h-2zM225 141h1v7h-1zM226 148h1v9h-1zM227 157h1v6h-1zM228 163h1v7h-1zM229 170h1v6h-1zM230 176h1v8h-1zM231 184h1v5h-1zM232 189h1v2h-1zM233 191h1v4h-1zM234 195h1v3h-1zM355 201h1v1h-1zM354 202h2v1h-2zM235 198h1v6h-1zM368 202h1v3h-1zM349 203h1v2h-1zM356 203h1v3h-1zM348 205h2v2h-2zM357 206h1v2h-1zM236 204h1v5h-1zM348 207h1v2h-1zM358 208h2v1h-2zM353 203h1v7h-1zM359 209h1v1h-1zM237 209h1v1h-1zM238 210h1v2h-1zM360 210h1v2h-1zM367 205h1v8h-1zM347 209h1v4h-1zM239 212h2v1h-2zM361 212h2v1h-2zM346 213h1v1h-1zM362 213h1v1h-1zM240 213h1v1h-1zM369 205h1v10h-1zM350 207h1v8h-1zM352 210h1v5h-1zM345 214h2v1h-2zM363 214h1v2h-1zM344 215h3v1h-3zM366 213h1v4h-1zM241 214h1v3h-1zM351 215h2v2h-2zM344 216h1v1h-1zM346 216h1v1h-1zM364 216h1v1h-1zM365 217h2v1h-2zM351 217h1v2h-1zM366 218h1v1h-1zM343 217h1v3h-1zM242 217h1v3h-1zM243 220h1v4h-1zM342 220h1v5h-1zM370 215h1v13h-1zM244 224h1v4h-1zM341 225h1v7h-1zM245 228h1v4h-1zM371 228h1v8h-1zM246 232h1v6h-1zM372 236h1v4h-1zM340 232h1v9h-1zM265 240h1v1h-1zM373 240h1v2h-1zM263 241h3v1h-3zM247 238h1v6h-1zM266 242h1v2h-1zM374 242h1v2h-1zM263 242h1v3h-1zM375 244h1v2h-1zM267 244h1v2h-1zM339 241h1v7h-1zM248 244h1v4h-1zM268 246h1v2h-1zM262 245h1v4h-1zM376 246h1v3h-1zM269 248h2v1h-2zM282 248h1v1h-1zM270 249h1v1h-1zM255 249h1v1h-1zM249 248h1v3h-1zM280 249h3v2h-3zM261 249h1v2h-1zM284 250h1v1h-1zM278 250h1v1h-1zM254 250h2v1h-2zM271 250h1v1h-1zM338 248h1v4h-1zM286 250h1v2h-1zM254 251h1v1h-1zM271 251h2v1h-2zM283 251h2v1h-2zM377 249h1v4h-1zM260 251h1v2h-1zM278 251h2v2h-2zM250 251h1v2h-1zM283 252h1v1h-1zM272 252h1v1h-1zM285 252h2v1h-2zM252 252h2v1h-2zM336 252h3v1h-3zM256 251h1v3h-1zM273 253h2v1h-2zM277 253h1v1h-1zM285 253h1v1h-1zM250 253h2v1h-2zM287 253h1v1h-1zM334 253h2v1h-2zM179 186h1v69h-1zM378 253h1v2h-1zM259 253h1v2h-1zM335 254h1v1h-1zM257 254h1v1h-1zM251 254h1v1h-1zM275 254h3v1h-3zM287 254h2v2h-2zM379 255h2v1h-2zM258 255h1v1h-1zM312 255h1v1h-1zM276 255h2v1h-2zM277 256h1v1h-1zM310 256h3v1h-3zM308 256h1v1h-1zM314 256h1v1h-1zM380 256h1v1h-1zM333 254h1v4h-1zM289 256h2v2h-2zM313 257h2v1h-2zM311 257h1v1h-1zM308 257h2v1h-2zM291 258h1v1h-1zM381 257h1v3h-1zM308 258h1v2h-1zM291 259h2v1h-2zM315 258h1v3h-1zM293 260h2v1h-2zM382 260h1v2h-1zM307 260h1v2h-1zM294 261h1v1h-1zM316 261h1v1h-1zM320 262h1v1h-1zM332 258h1v6h-1zM383 262h1v2h-1zM306 262h2v2h-2zM324 263h1v1h-1zM326 263h1v1h-1zM319 263h2v1h-2zM304 263h1v1h-1zM295 262h1v3h-1zM317 262h1v3h-1zM331 264h1v1h-1zM319 264h1v1h-1zM302 264h4v1h-4zM323 264h4v1h-4zM386 264h1v2h-1zM321 264h1v2h-1zM384 264h1v2h-1zM330 265h2v1h-2zM325 265h2v1h-2zM323 265h1v1h-1zM303 265h1v1h-1zM305 265h1v2h-1zM299 265h1v2h-1zM301 265h1v2h-1zM296 265h1v2h-1zM318 265h1v2h-1zM329 266h3v1h-3zM322 266h1v1h-1zM385 266h2v1h-2zM327 266h1v2h-1zM331 267h1v1h-1zM385 267h1v1h-1zM329 267h1v1h-1zM297 267h2v2h-2zM387 267h2v2h-2zM300 267h1v2h-1zM327 268h2v1h-2zM298 269h1v1h-1zM389 269h2v2h-2zM390 271h1v2h-1zM391 273h1v3h-1zM391 276h2v1h-2zM392 277h1v3h-1zM393 280h1v2h-1zM393 283h1v2h-1zM394 285h1v4h-1zM395 289h1v4h-1zM396 293h1v4h-1zM401 296h1v2h-1zM403 296h1v2h-1zM397 297h1v2h-1zM402 298h2v1h-2zM405 298h1v1h-1zM400 298h1v2h-1zM402 299h1v1h-1zM397 299h2v1h-2zM404 299h2v2h-2zM398 300h2v1h-2zM399 301h1v1h-1zM406 301h1v2h-1zM407 303h2v1h-2zM410 303h1v1h-1zM408 304h3v1h-3zM178 255h1v51h-1zM409 305h1v1h-1zM411 305h1v2h-1zM412 307h1v4h-1zM413 311h1v4h-1zM414 315h1v1h-1zM415 316h1v2h-1zM122 317h1v1h-1zM121 318h2v2h-2zM416 318h1v3h-1zM120 320h1v1h-1zM591 318h1v4h-1zM572 319h1v3h-1zM519 319h1v3h-1zM594 321h1v1h-1zM574 321h1v1h-1zM509 320h1v3h-1zM576 320h1v3h-1zM588 322h1v1h-1zM519 322h2v1h-2zM573 322h2v1h-2zM590 322h1v1h-1zM123 320h1v4h-1zM417 321h1v3h-1zM119 321h1v3h-1zM504 322h1v2h-1zM592 322h3v2h-3zM573 323h4v1h-4zM588 323h3v2h-3zM594 324h1v1h-1zM523 324h1v1h-1zM504 324h2v1h-2zM575 324h2v1h-2zM520 323h1v3h-1zM508 323h1v3h-1zM510 323h1v3h-1zM418 324h1v2h-1zM592 324h1v2h-1zM523 325h2v1h-2zM588 325h1v1h-1zM590 325h1v1h-1zM512 325h1v1h-1zM571 322h1v5h-1zM518 323h1v4h-1zM577 325h1v2h-1zM528 325h1v2h-1zM505 325h1v2h-1zM515 325h1v2h-1zM575 325h1v2h-1zM584 325h1v2h-1zM503 325h1v2h-1zM526 326h1v1h-1zM511 326h2v1h-2zM65 326h1v1h-1zM524 326h1v1h-1zM521 326h2v1h-2zM586 326h2v1h-2zM507 326h1v1h-1zM118 324h1v4h-1zM424 326h1v2h-1zM522 327h1v1h-1zM502 327h2v1h-2zM422 327h1v1h-1zM516 327h2v1h-2zM506 327h1v1h-1zM582 327h2v1h-2zM525 327h4v1h-4zM513 327h2v1h-2zM595 325h1v4h-1zM419 326h1v3h-1zM64 327h2v2h-2zM585 327h3v2h-3zM56 327h1v2h-1zM577 327h2v2h-2zM531 327h2v2h-2zM583 328h1v1h-1zM514 328h1v1h-1zM534 328h1v1h-1zM422 328h3v1h-3zM502 328h1v1h-1zM62 328h1v1h-1zM516 328h1v1h-1zM525 328h1v1h-1zM124 324h1v6h-1zM67 328h1v2h-1zM527 328h1v2h-1zM580 328h2v2h-2zM529 328h1v2h-1zM531 329h1v1h-1zM423 329h2v1h-2zM578 329h1v1h-1zM65 329h1v1h-1zM420 329h2v1h-2zM55 329h2v2h-2zM533 329h2v2h-2zM587 329h1v2h-1zM501 329h1v2h-1zM62 329h2v2h-2zM423 330h1v1h-1zM421 330h1v1h-1zM117 328h1v4h-1zM425 330h1v2h-1zM66 330h2v2h-2zM486 330h1v2h-1zM529 330h2v2h-2zM61 331h1v1h-1zM500 331h1v1h-1zM596 329h1v4h-1zM579 330h1v3h-1zM57 331h1v2h-1zM534 331h1v2h-1zM484 332h2v1h-2zM487 332h1v1h-1zM499 332h2v1h-2zM66 332h1v1h-1zM425 332h2v1h-2zM68 332h1v2h-1zM60 332h2v2h-2zM436 332h1v2h-1zM530 332h1v2h-1zM428 332h1v2h-1zM485 333h1v1h-1zM487 333h2v1h-2zM426 333h1v1h-1zM496 333h1v1h-1zM57 333h2v1h-2zM498 333h1v1h-1zM570 327h1v8h-1zM482 333h2v2h-2zM480 333h1v2h-1zM61 334h1v1h-1zM488 334h1v1h-1zM494 334h1v1h-1zM68 334h2v1h-2zM496 334h2v1h-2zM435 334h1v1h-1zM57 334h3v1h-3zM125 330h1v6h-1zM535 333h1v3h-1zM429 334h2v2h-2zM427 334h1v2h-1zM432 335h1v1h-1zM492 335h1v1h-1zM494 335h2v1h-2zM480 335h2v1h-2zM497 335h1v1h-1zM116 332h1v5h-1zM437 334h1v3h-1zM59 335h1v2h-1zM538 335h1v2h-1zM434 335h2v2h-2zM495 336h1v1h-1zM535 336h2v1h-2zM492 336h2v1h-2zM481 336h1v1h-1zM597 333h1v5h-1zM489 335h1v3h-1zM69 335h1v3h-1zM478 336h2v2h-2zM126 336h1v2h-1zM431 336h2v2h-2zM476 336h1v2h-1zM434 337h1v1h-1zM491 337h1v1h-1zM493 337h1v1h-1zM474 337h1v1h-1zM536 337h3v1h-3zM490 338h2v1h-2zM432 338h2v1h-2zM537 338h2v1h-2zM474 338h4v1h-4zM178 311h1v29h-1zM115 337h1v3h-1zM438 337h1v3h-1zM70 338h1v2h-1zM479 338h1v2h-1zM598 338h1v2h-1zM147 338h1v2h-1zM445 338h1v2h-1zM447 338h1v2h-1zM443 339h1v1h-1zM440 339h1v1h-1zM105 339h1v1h-1zM537 339h1v1h-1zM611 339h1v1h-1zM464 339h1v1h-1zM468 338h1v3h-1zM466 338h1v3h-1zM145 339h1v2h-1zM475 339h1v2h-1zM613 339h1v2h-1zM99 339h1v2h-1zM477 339h1v2h-1zM449 339h1v2h-1zM73 339h1v2h-1zM101 339h1v2h-1zM601 339h1v2h-1zM152 339h1v2h-1zM542 339h1v2h-1zM606 339h1v2h-1zM608 339h1v2h-1zM103 339h1v2h-1zM105 340h2v1h-2zM147 340h2v1h-2zM610 340h2v1h-2zM442 340h6v1h-6zM598 340h2v1h-2zM615 340h1v1h-1zM70 340h2v1h-2zM97 340h1v1h-1zM170 340h1v1h-1zM603 340h2v1h-2zM177 340h2v1h-2zM470 340h1v1h-1zM75 340h1v1h-1zM463 340h2v1h-2zM127 338h1v4h-1zM150 339h1v3h-1zM539 339h1v3h-1zM433 339h1v3h-1zM472 339h2v3h-2zM163 340h1v2h-1zM549 340h1v2h-1zM108 340h1v2h-1zM453 340h1v2h-1zM95 340h1v2h-1zM141 340h1v2h-1zM159 340h1v2h-1zM91 340h1v2h-1zM559 340h1v2h-1zM110 340h1v2h-1zM137 340h1v2h-1zM546 340h1v2h-1zM555 340h1v2h-1zM82 340h1v2h-1zM165 340h1v2h-1zM133 340h1v2h-1zM87 340h1v2h-1zM459 340h1v2h-1zM161 340h1v2h-1zM129 340h1v2h-1zM565 340h1v2h-1zM551 340h1v2h-1zM455 340h1v2h-1zM93 340h1v2h-1zM157 340h1v2h-1zM561 340h1v2h-1zM557 340h1v2h-1zM451 340h1v2h-1zM84 340h1v2h-1zM439 340h2v2h-2zM553 340h1v2h-1zM112 340h1v2h-1zM80 340h1v2h-1zM544 340h1v2h-1zM461 340h1v2h-1zM172 340h1v2h-1zM114 340h2v2h-2zM567 340h1v2h-1zM457 340h1v2h-1zM604 341h4v1h-4zM152 341h2v1h-2zM563 341h1v1h-1zM155 341h1v1h-1zM106 341h1v1h-1zM463 341h3v1h-3zM145 341h2v1h-2zM442 341h1v1h-1zM177 341h1v1h-1zM143 341h1v1h-1zM97 341h4v1h-4zM167 341h1v1h-1zM89 341h1v1h-1zM614 341h2v1h-2zM469 341h2v1h-2zM599 341h2v1h-2zM148 341h1v1h-1zM448 341h2v1h-2zM70 341h4v1h-4zM169 341h2v1h-2zM135 341h1v1h-1zM131 341h1v1h-1zM75 341h4v1h-4zM541 341h2v1h-2zM102 341h3v1h-3zM174 341h2v1h-2zM569 335h1v8h-1zM444 341h1v2h-1zM446 341h1v2h-1zM602 341h1v2h-1zM609 341h1v2h-1zM612 341h1v2h-1zM128 342h2v1h-2zM88 342h9v1h-9zM600 342h1v1h-1zM78 342h2v1h-2zM439 342h1v1h-1zM143 342h2v1h-2zM562 342h6v1h-6zM169 342h1v1h-1zM452 342h3v1h-3zM153 342h12v1h-12zM131 342h3v1h-3zM148 342h2v1h-2zM614 342h1v1h-1zM166 342h2v1h-2zM175 342h2v1h-2zM616 342h5v1h-5zM547 342h2v1h-2zM558 342h3v1h-3zM135 342h2v1h-2zM138 342h4v1h-4zM85 342h2v1h-2zM102 342h1v1h-1zM540 342h2v1h-2zM98 342h1v1h-1zM469 342h3v1h-3zM111 342h3v1h-3zM467 341h1v3h-1zM72 342h1v2h-1zM81 342h1v2h-1zM462 342h1v2h-1zM173 342h1v2h-1zM545 342h1v2h-1zM554 342h1v2h-1zM104 342h1v2h-1zM458 342h1v2h-1zM109 342h1v2h-1zM100 342h1v2h-1zM605 342h1v2h-1zM550 342h1v2h-1zM146 342h1v2h-1zM441 342h1v2h-1zM74 342h1v2h-1zM83 342h1v2h-1zM607 342h1v2h-1zM456 342h1v2h-1zM552 342h1v2h-1zM465 342h1v2h-1zM556 342h1v2h-1zM460 342h1v2h-1zM107 342h1v2h-1zM171 342h1v2h-1zM543 342h1v2h-1zM448 342h1v2h-1zM90 343h1v1h-1zM558 343h1v1h-1zM86 343h1v1h-1zM541 343h1v1h-1zM139 343h2v1h-2zM469 343h1v1h-1zM111 343h1v1h-1zM166 343h1v1h-1zM79 343h1v1h-1zM88 343h1v1h-1zM548 343h1v1h-1zM562 343h1v1h-1zM452 343h1v1h-1zM151 342h1v3h-1zM450 342h1v3h-1zM136 343h1v2h-1zM164 343h1v2h-1zM471 343h1v2h-1zM113 343h1v2h-1zM132 343h1v2h-1zM568 343h1v2h-1zM128 343h1v2h-1zM160 343h1v2h-1zM96 343h1v2h-1zM156 343h1v2h-1zM564 343h1v2h-1zM142 343h1v2h-1zM454 343h1v2h-1zM560 343h1v2h-1zM92 343h1v2h-1zM162 343h1v2h-1zM566 343h1v2h-1zM134 343h1v2h-1zM158 343h1v2h-1zM144 343h1v2h-1zM130 343h1v2h-1zM176 343h1v2h-1zM149 343h1v2h-1zM94 343h1v2h-1zM168 343h1v2h-1zM140 344h1v1h-1z"/><path fill="#0080ff" d="M201 39h1v23h-1zM581 74h29v1h-29zM202 62h1v24h-1zM203 86h1v16h-1zM204 102h1v7h-1zM205 109h1v4h-1zM205 113h2v1h-2zM206 114h1v2h-1zM207 116h1v6h-1zM208 122h1v5h-1zM209 127h1v3h-1zM210 130h1v2h-1zM211 132h1v1h-1zM211 133h2v1h-2zM213 134h2v1h-2zM214 135h1v1h-1zM215 136h1v2h-1zM181 39h1v101h-1zM216 138h1v2h-1zM217 140h1v2h-1zM218 142h1v2h-1zM219 144h1v2h-1zM220 146h1v3h-1zM221 149h1v4h-1zM222 153h1v10h-1zM223 163h1v6h-1zM223 169h2v1h-2zM224 170h1v7h-1zM225 177h1v9h-1zM226 186h1v6h-1zM227 192h1v7h-1zM228 199h1v8h-1zM229 207h1v8h-1zM230 215h1v6h-1zM231 221h1v2h-1zM232 223h1v1h-1zM233 224h1v1h-1zM234 225h1v5h-1zM235 230h1v5h-1zM236 235h1v3h-1zM237 238h1v2h-1zM238 240h1v1h-1zM368 237h2v5h-2zM239 241h1v2h-1zM369 242h1v1h-1zM240 243h1v2h-1zM241 245h2v1h-2zM242 246h1v1h-1zM349 245h1v3h-1zM357 247h1v1h-1zM243 247h1v2h-1zM356 248h1v1h-1zM358 248h3v1h-3zM367 242h1v8h-1zM344 248h1v2h-1zM348 248h2v2h-2zM360 249h1v1h-1zM355 249h1v1h-1zM361 250h1v1h-1zM345 250h2v1h-2zM348 250h1v1h-1zM343 250h1v2h-1zM366 250h1v2h-1zM364 250h1v2h-1zM362 251h1v1h-1zM347 251h2v1h-2zM244 249h1v4h-1zM365 252h2v1h-2zM362 252h2v1h-2zM363 253h1v1h-1zM366 253h1v1h-1zM180 140h1v115h-1zM370 243h1v12h-1zM354 250h1v5h-1zM342 252h1v3h-1zM350 250h1v9h-1zM245 253h1v6h-1zM341 255h1v5h-1zM371 255h1v7h-1zM284 261h1v1h-1zM340 260h1v4h-1zM264 262h1v2h-1zM285 262h1v2h-1zM266 263h1v1h-1zM281 263h1v1h-1zM353 255h1v10h-1zM246 259h1v6h-1zM351 259h1v6h-1zM283 262h1v3h-1zM265 264h2v1h-2zM280 264h2v1h-2zM372 262h1v4h-1zM266 265h1v1h-1zM280 265h3v1h-3zM351 265h2v1h-2zM374 265h1v1h-1zM286 264h1v3h-1zM263 264h1v3h-1zM279 266h1v1h-1zM339 264h1v4h-1zM282 266h1v2h-1zM267 266h2v2h-2zM373 266h2v2h-2zM278 267h2v1h-2zM376 267h1v1h-1zM262 267h1v2h-1zM277 268h1v1h-1zM260 268h1v1h-1zM352 266h1v4h-1zM269 268h2v2h-2zM375 268h2v2h-2zM260 269h2v1h-2zM276 269h2v1h-2zM247 265h1v6h-1zM287 267h1v4h-1zM338 268h1v3h-1zM290 269h1v2h-1zM254 269h1v2h-1zM256 269h1v2h-1zM258 270h2v1h-2zM274 270h2v1h-2zM271 270h2v1h-2zM261 270h1v1h-1zM377 270h1v2h-1zM271 271h3v1h-3zM292 271h1v1h-1zM337 271h1v1h-1zM313 271h2v1h-2zM288 271h3v1h-3zM275 271h1v1h-1zM253 271h3v1h-3zM257 271h3v1h-3zM250 271h2v1h-2zM248 271h1v1h-1zM291 272h2v1h-2zM336 272h2v1h-2zM273 272h1v1h-1zM253 272h1v1h-1zM259 272h1v1h-1zM314 272h1v1h-1zM248 272h2v1h-2zM294 272h1v1h-1zM251 272h1v1h-1zM312 272h1v1h-1zM288 272h2v1h-2zM62 252h1v22h-1zM255 272h1v2h-1zM378 272h1v2h-1zM310 273h2v1h-2zM289 273h1v1h-1zM291 273h1v1h-1zM336 273h1v1h-1zM249 273h1v1h-1zM315 273h1v2h-1zM293 273h2v2h-2zM252 273h1v2h-1zM306 274h1v1h-1zM335 274h1v1h-1zM311 274h1v1h-1zM304 274h1v1h-1zM379 274h2v1h-2zM308 274h2v1h-2zM300 274h1v2h-1zM306 275h2v1h-2zM380 275h1v1h-1zM334 275h2v1h-2zM302 275h3v1h-3zM295 275h2v2h-2zM316 275h1v2h-1zM301 276h1v1h-1zM307 276h1v1h-1zM381 276h1v1h-1zM303 276h1v1h-1zM299 276h1v2h-1zM334 276h1v2h-1zM305 276h1v2h-1zM381 277h2v1h-2zM297 277h1v1h-1zM317 277h1v2h-1zM382 278h1v1h-1zM298 278h1v1h-1zM519 278h1v1h-1zM62 274h2v6h-2zM532 279h1v1h-1zM383 279h1v1h-1zM534 279h1v1h-1zM520 279h1v2h-1zM386 279h1v2h-1zM522 279h1v2h-1zM383 280h2v1h-2zM532 280h3v1h-3zM561 280h1v1h-1zM405 280h1v1h-1zM518 279h1v3h-1zM318 279h1v3h-1zM320 280h1v2h-1zM390 280h1v2h-1zM402 281h1v1h-1zM475 281h1v1h-1zM560 281h2v1h-2zM404 281h2v1h-2zM387 281h2v1h-2zM523 281h1v1h-1zM528 281h1v1h-1zM530 281h2v1h-2zM384 281h2v1h-2zM392 281h1v1h-1zM333 278h1v5h-1zM495 280h1v3h-1zM509 281h1v2h-1zM565 281h1v2h-1zM535 281h2v2h-2zM521 281h1v2h-1zM321 282h2v1h-2zM387 282h3v1h-3zM528 282h2v1h-2zM476 282h1v1h-1zM531 282h1v1h-1zM478 282h2v1h-2zM560 282h1v1h-1zM514 282h1v1h-1zM562 282h2v1h-2zM404 282h1v1h-1zM391 282h1v1h-1zM393 282h2v1h-2zM400 282h3v1h-3zM504 282h1v2h-1zM385 282h1v2h-1zM413 282h1v2h-1zM516 282h2v2h-2zM524 282h1v2h-1zM474 282h1v2h-1zM511 282h1v2h-1zM406 282h1v2h-1zM319 282h1v2h-1zM398 283h1v1h-1zM395 283h2v1h-2zM477 283h1v1h-1zM389 283h1v1h-1zM559 283h1v1h-1zM400 283h2v1h-2zM506 283h1v1h-1zM508 283h2v1h-2zM526 283h2v1h-2zM411 283h1v1h-1zM513 283h2v1h-2zM480 283h1v2h-1zM537 283h2v2h-2zM563 283h1v2h-1zM403 283h1v2h-1zM565 283h2v2h-2zM322 283h1v2h-1zM540 284h1v1h-1zM324 284h1v1h-1zM527 284h1v1h-1zM411 284h3v1h-3zM510 284h2v1h-2zM513 284h1v1h-1zM504 284h3v1h-3zM396 284h1v1h-1zM398 284h2v1h-2zM415 284h1v1h-1zM570 283h1v3h-1zM494 283h2v3h-2zM508 284h1v2h-1zM572 284h1v2h-1zM515 284h1v2h-1zM542 284h1v2h-1zM558 284h2v2h-2zM525 284h1v2h-1zM425 285h1v1h-1zM505 285h2v1h-2zM481 285h1v1h-1zM568 285h1v1h-1zM399 285h1v1h-1zM551 285h1v1h-1zM510 285h1v1h-1zM539 285h2v1h-2zM566 285h1v1h-1zM563 285h2v1h-2zM407 284h1v3h-1zM417 284h1v3h-1zM397 285h1v2h-1zM412 285h1v2h-1zM323 285h2v2h-2zM414 285h2v2h-2zM410 285h1v2h-1zM553 285h1v2h-1zM503 285h1v2h-1zM512 285h1v2h-1zM539 286h1v1h-1zM481 286h13v1h-13zM567 286h3v1h-3zM424 286h2v1h-2zM571 286h2v1h-2zM550 286h2v1h-2zM332 283h1v5h-1zM541 286h1v2h-1zM495 286h1v2h-1zM556 286h2v2h-2zM436 286h1v2h-1zM543 286h1v2h-1zM507 286h1v2h-1zM434 287h1v1h-1zM549 287h1v1h-1zM554 287h1v1h-1zM325 287h1v1h-1zM573 287h1v1h-1zM445 287h1v1h-1zM502 287h2v1h-2zM414 287h4v1h-4zM424 287h1v1h-1zM571 287h1v1h-1zM438 287h1v1h-1zM408 287h2v1h-2zM473 284h1v5h-1zM564 286h1v3h-1zM430 287h1v2h-1zM569 287h1v2h-1zM426 287h1v2h-1zM432 287h1v2h-1zM552 287h1v2h-1zM428 287h1v2h-1zM444 288h1v1h-1zM437 288h2v1h-2zM408 288h1v1h-1zM546 288h1v1h-1zM548 288h2v1h-2zM434 288h2v1h-2zM557 288h1v1h-1zM502 288h1v1h-1zM554 288h2v1h-2zM325 288h2v1h-2zM544 288h1v1h-1zM330 288h2v2h-2zM422 288h2v2h-2zM446 288h1v2h-1zM573 288h2v2h-2zM435 289h1v1h-1zM440 289h1v1h-1zM426 289h3v1h-3zM328 289h1v1h-1zM430 289h2v1h-2zM438 289h1v1h-1zM544 289h4v1h-4zM416 288h1v3h-1zM418 288h2v3h-2zM555 289h1v2h-1zM442 289h2v2h-2zM501 289h1v2h-1zM326 289h1v2h-1zM433 289h1v2h-1zM545 290h1v1h-1zM421 290h1v1h-1zM431 290h1v1h-1zM328 290h2v1h-2zM447 290h2v1h-2zM547 290h1v1h-1zM439 290h2v1h-2zM427 290h1v2h-1zM331 290h1v2h-1zM451 290h1v2h-1zM575 290h1v2h-1zM420 291h2v1h-2zM439 291h1v1h-1zM329 291h1v1h-1zM448 291h1v1h-1zM429 290h1v3h-1zM327 291h1v2h-1zM500 291h1v2h-1zM441 291h1v2h-1zM576 292h1v1h-1zM498 292h1v1h-1zM420 292h1v1h-1zM457 292h1v1h-1zM496 288h1v6h-1zM466 292h1v2h-1zM461 292h1v2h-1zM459 292h1v2h-1zM449 292h2v2h-2zM498 293h2v1h-2zM456 293h2v1h-2zM464 293h1v1h-1zM472 289h1v6h-1zM452 292h1v3h-1zM454 294h2v1h-2zM462 294h1v1h-1zM499 294h1v1h-1zM464 294h3v1h-3zM450 294h1v1h-1zM577 293h1v3h-1zM496 294h2v2h-2zM458 294h1v2h-1zM460 294h1v2h-1zM462 295h2v1h-2zM465 295h2v1h-2zM455 295h1v1h-1zM580 295h1v1h-1zM582 295h1v1h-1zM453 295h1v2h-1zM463 296h1v1h-1zM465 296h1v1h-1zM471 295h1v3h-1zM578 296h1v2h-1zM467 296h1v2h-1zM580 296h3v2h-3zM467 298h2v1h-2zM583 298h1v1h-1zM578 298h2v1h-2zM63 280h1v20h-1zM470 298h2v2h-2zM468 299h1v1h-1zM583 299h2v1h-2zM579 299h1v2h-1zM591 299h1v2h-1zM597 300h1v1h-1zM595 300h1v1h-1zM584 300h1v2h-1zM469 300h1v2h-1zM595 301h3v1h-3zM592 301h1v1h-1zM590 301h1v2h-1zM588 302h1v1h-1zM592 302h3v1h-3zM596 302h2v1h-2zM585 302h2v1h-2zM599 302h1v1h-1zM603 302h1v2h-1zM607 302h1v2h-1zM609 302h1v2h-1zM119 303h1v1h-1zM585 303h3v1h-3zM594 303h1v1h-1zM589 303h1v1h-1zM601 303h1v1h-1zM598 303h2v1h-2zM612 302h1v3h-1zM121 303h1v2h-1zM605 303h1v2h-1zM118 304h2v1h-2zM607 304h2v1h-2zM587 304h1v1h-1zM600 304h4v1h-4zM610 304h1v1h-1zM179 255h1v51h-1zM64 300h1v6h-1zM614 304h1v2h-1zM598 304h1v2h-1zM123 304h1v2h-1zM610 305h3v1h-3zM600 305h1v1h-1zM118 305h4v1h-4zM602 305h1v1h-1zM604 305h3v1h-3zM136 304h1v3h-1zM616 305h1v2h-1zM608 305h1v2h-1zM118 306h1v1h-1zM618 306h1v1h-1zM129 306h1v1h-1zM620 306h1v1h-1zM613 306h2v1h-2zM134 306h1v1h-1zM178 306h2v1h-2zM138 305h1v3h-1zM144 305h1v3h-1zM168 305h1v3h-1zM72 306h1v2h-1zM67 306h1v2h-1zM604 306h1v2h-1zM164 306h1v2h-1zM173 306h1v2h-1zM127 306h1v2h-1zM132 306h1v2h-1zM69 306h1v2h-1zM124 306h1v2h-1zM142 306h1v2h-1zM65 306h1v2h-1zM611 306h1v2h-1zM606 306h1v2h-1zM175 306h1v2h-1zM120 306h1v2h-1zM171 306h1v2h-1zM122 306h1v2h-1zM140 306h1v2h-1zM154 307h1v1h-1zM615 307h2v1h-2zM134 307h3v1h-3zM129 307h2v1h-2zM146 307h1v1h-1zM166 307h1v1h-1zM162 307h1v1h-1zM618 307h2v1h-2zM149 307h1v1h-1zM117 307h1v1h-1zM61 280h1v29h-1zM156 306h1v3h-1zM613 307h1v2h-1zM151 307h1v2h-1zM55 307h1v2h-1zM160 307h1v2h-1zM59 307h1v2h-1zM177 307h2v2h-2zM57 307h1v2h-1zM158 307h1v2h-1zM82 308h2v1h-2zM162 308h3v1h-3zM73 308h8v1h-8zM87 308h14v1h-14zM130 308h6v1h-6zM114 308h1v1h-1zM169 308h7v1h-7zM619 308h1v1h-1zM148 308h2v1h-2zM166 308h2v1h-2zM116 308h2v1h-2zM139 308h5v1h-5zM153 308h2v1h-2zM65 308h4v1h-4zM102 308h1v1h-1zM145 308h2v1h-2zM108 308h5v1h-5zM125 308h4v1h-4zM104 308h2v1h-2zM615 308h1v2h-1zM70 308h2v2h-2zM617 308h1v2h-1zM81 309h1v1h-1zM84 309h3v1h-3zM106 309h2v1h-2zM125 309h2v1h-2zM101 309h1v1h-1zM113 309h3v1h-3zM154 309h2v1h-2zM103 309h1v1h-1zM169 309h2v1h-2zM137 308h1v3h-1zM145 309h1v2h-1zM163 309h1v2h-1zM58 309h1v2h-1zM141 309h1v2h-1zM150 309h1v2h-1zM159 309h1v2h-1zM178 309h1v2h-1zM68 309h1v2h-1zM128 309h1v2h-1zM174 309h1v2h-1zM147 309h1v2h-1zM60 309h1v2h-1zM133 309h1v2h-1zM143 309h1v2h-1zM152 309h1v2h-1zM161 309h1v2h-1zM157 309h1v2h-1zM56 309h1v2h-1zM139 309h1v2h-1zM135 309h1v2h-1zM167 309h1v2h-1zM176 309h1v2h-1zM172 309h1v2h-1zM66 309h1v2h-1zM131 309h1v2h-1zM169 310h1v1h-1zM115 310h1v1h-1zM126 310h1v1h-1zM165 309h1v3h-1zM155 310h1v2h-1z"/><path fill="#000000" d="M320 15h3v1h-3zM334 15h1v1h-1zM327 15h1v1h-1zM351 15h1v1h-1zM339 15h1v1h-1zM356 15h3v1h-3zM333 16h2v1h-2zM326 16h2v1h-2zM340 16h1v1h-1zM350 16h2v1h-2zM338 16h1v1h-1zM319 16h1v1h-1zM359 16h1v2h-1zM355 16h1v2h-1zM323 16h1v2h-1zM313 17h2v1h-2zM332 17h1v1h-1zM325 17h1v1h-1zM349 17h1v1h-1zM316 17h1v1h-1zM322 18h1v1h-1zM356 18h3v1h-3zM334 17h1v3h-1zM331 18h1v2h-1zM321 19h1v1h-1zM341 17h1v4h-1zM337 17h1v4h-1zM320 20h1v1h-1zM331 20h5v1h-5zM327 17h1v5h-1zM351 17h1v5h-1zM315 18h1v4h-1zM359 19h1v3h-1zM355 19h1v3h-1zM340 21h1v1h-1zM338 21h1v1h-1zM319 21h1v1h-1zM317 18h1v5h-1zM313 18h1v5h-1zM334 21h1v2h-1zM349 22h5v1h-5zM319 22h5v1h-5zM339 22h1v1h-1zM325 22h5v1h-5zM356 22h3v1h-3zM343 23h5v1h-5zM38 35h1v1h-1zM44 35h1v1h-1zM32 35h1v1h-1zM24 35h5v1h-5zM20 35h1v1h-1zM45 36h1v1h-1zM39 36h1v1h-1zM37 36h1v1h-1zM31 36h1v1h-1zM33 36h1v1h-1zM43 36h1v1h-1zM19 36h2v1h-2zM24 36h1v2h-1zM18 37h1v1h-1zM54 38h568v1h-568zM24 38h4v1h-4zM34 37h1v4h-1zM40 37h1v4h-1zM42 37h1v4h-1zM46 37h1v4h-1zM30 37h1v4h-1zM36 37h1v4h-1zM20 37h1v5h-1zM28 39h1v3h-1zM45 41h1v1h-1zM39 41h1v1h-1zM37 41h1v1h-1zM31 41h1v1h-1zM24 41h1v1h-1zM33 41h1v1h-1zM43 41h1v1h-1zM579 39h1v4h-1zM264 39h1v4h-1zM369 39h1v4h-1zM159 39h1v4h-1zM474 39h1v4h-1zM18 42h5v1h-5zM38 42h1v1h-1zM44 42h1v1h-1zM25 42h3v1h-3zM32 42h1v1h-1zM571 45h1v1h-1zM547 45h1v1h-1zM540 45h2v1h-2zM570 46h2v1h-2zM553 47h2v1h-2zM546 47h2v1h-2zM569 47h1v1h-1zM551 47h1v1h-1zM558 47h3v1h-3zM551 48h2v1h-2zM561 48h1v1h-1zM557 48h1v1h-1zM557 49h5v1h-5zM541 46h1v6h-1zM571 47h1v5h-1zM547 48h1v4h-1zM557 50h1v2h-1zM555 48h1v5h-1zM551 49h1v4h-1zM569 52h5v1h-5zM540 52h3v1h-3zM558 52h3v1h-3zM546 52h3v1h-3zM547 58h1v1h-1zM540 58h2v1h-2zM570 58h3v1h-3zM569 59h1v1h-1zM573 59h1v2h-1zM553 60h2v1h-2zM546 60h2v1h-2zM551 60h1v1h-1zM558 60h3v1h-3zM551 61h2v1h-2zM572 61h1v1h-1zM561 61h1v1h-1zM557 61h1v1h-1zM571 62h1v1h-1zM557 62h5v1h-5zM570 63h1v1h-1zM541 59h1v6h-1zM547 61h1v4h-1zM557 63h1v2h-1zM569 64h1v1h-1zM555 61h1v5h-1zM551 62h1v4h-1zM569 65h5v1h-5zM540 65h3v1h-3zM558 65h3v1h-3zM546 65h3v1h-3zM569 71h5v1h-5zM547 71h1v1h-1zM540 71h2v1h-2zM573 72h1v1h-1zM553 73h2v1h-2zM546 73h2v1h-2zM572 73h1v1h-1zM551 73h1v1h-1zM558 73h3v1h-3zM571 74h2v1h-2zM551 74h2v1h-2zM561 74h1v1h-1zM557 74h1v1h-1zM557 75h5v1h-5zM541 72h1v6h-1zM547 74h1v4h-1zM573 75h1v3h-1zM557 76h1v2h-1zM569 77h1v1h-1zM555 74h1v5h-1zM551 75h1v4h-1zM540 78h3v1h-3zM558 78h3v1h-3zM546 78h3v1h-3zM570 78h3v1h-3zM38 104h1v1h-1zM26 104h1v1h-1zM44 104h1v1h-1zM32 104h1v1h-1zM20 104h1v1h-1zM45 105h1v1h-1zM39 105h1v1h-1zM37 105h1v1h-1zM31 105h1v1h-1zM33 105h1v1h-1zM43 105h1v1h-1zM19 105h2v1h-2zM27 105h1v1h-1zM25 105h1v1h-1zM54 39h1v68h-1zM621 39h1v68h-1zM18 106h1v1h-1zM54 107h5v1h-5zM617 107h5v1h-5zM28 106h1v4h-1zM34 106h1v4h-1zM24 106h1v4h-1zM40 106h1v4h-1zM42 106h1v4h-1zM46 106h1v4h-1zM30 106h1v4h-1zM36 106h1v4h-1zM20 106h1v5h-1zM45 110h1v1h-1zM39 110h1v1h-1zM37 110h1v1h-1zM31 110h1v1h-1zM33 110h1v1h-1zM43 110h1v1h-1zM27 110h1v1h-1zM25 110h1v1h-1zM18 111h5v1h-5zM38 111h1v1h-1zM26 111h1v1h-1zM44 111h1v1h-1zM32 111h1v1h-1zM38 173h1v1h-1zM44 173h1v1h-1zM32 173h1v1h-1zM24 173h5v1h-5zM45 174h1v1h-1zM39 174h1v1h-1zM37 174h1v1h-1zM31 174h1v1h-1zM33 174h1v1h-1zM43 174h1v1h-1zM54 108h1v68h-1zM621 108h1v68h-1zM24 174h1v2h-1zM54 176h5v1h-5zM617 176h5v1h-5zM24 176h4v1h-4zM34 175h1v4h-1zM40 175h1v4h-1zM42 175h1v4h-1zM46 175h1v4h-1zM30 175h1v4h-1zM36 175h1v4h-1zM28 177h1v3h-1zM45 179h1v1h-1zM39 179h1v1h-1zM37 179h1v1h-1zM31 179h1v1h-1zM24 179h1v1h-1zM33 179h1v1h-1zM43 179h1v1h-1zM38 180h1v1h-1zM44 180h1v1h-1zM25 180h3v1h-3zM32 180h1v1h-1zM44 243h1v1h-1zM43 244h1v1h-1zM45 244h1v1h-1zM54 177h1v69h-1zM621 177h1v69h-1zM54 246h5v1h-5zM617 246h5v1h-5zM42 245h1v4h-1zM46 245h1v4h-1zM43 249h1v1h-1zM45 249h1v1h-1zM44 250h1v1h-1zM38 312h1v1h-1zM44 312h1v1h-1zM32 312h1v1h-1zM24 312h5v1h-5zM45 313h1v1h-1zM39 313h1v1h-1zM37 313h1v1h-1zM31 313h1v1h-1zM33 313h1v1h-1zM43 313h1v1h-1zM621 247h1v68h-1zM54 247h1v68h-1zM24 313h1v2h-1zM54 315h5v1h-5zM617 315h5v1h-5zM24 315h4v1h-4zM18 316h5v1h-5zM34 314h1v4h-1zM40 314h1v4h-1zM42 314h1v4h-1zM46 314h1v4h-1zM30 314h1v4h-1zM36 314h1v4h-1zM28 316h1v3h-1zM45 318h1v1h-1zM39 318h1v1h-1zM37 318h1v1h-1zM31 318h1v1h-1zM24 318h1v1h-1zM33 318h1v1h-1zM43 318h1v1h-1zM38 319h1v1h-1zM44 319h1v1h-1zM25 319h3v1h-3zM32 319h1v1h-1zM38 381h1v1h-1zM26 381h1v1h-1zM44 381h1v1h-1zM32 381h1v1h-1zM20 381h1v1h-1zM45 382h1v1h-1zM39 382h1v1h-1zM37 382h1v1h-1zM31 382h1v1h-1zM33 382h1v1h-1zM43 382h1v1h-1zM19 382h2v1h-2zM27 382h1v1h-1zM25 382h1v1h-1zM54 316h1v68h-1zM621 316h1v68h-1zM18 383h1v1h-1zM54 384h5v1h-5zM617 384h5v1h-5zM12 385h5v1h-5zM28 383h1v4h-1zM34 383h1v4h-1zM24 383h1v4h-1zM40 383h1v4h-1zM42 383h1v4h-1zM46 383h1v4h-1zM30 383h1v4h-1zM36 383h1v4h-1zM20 383h1v5h-1zM45 387h1v1h-1zM39 387h1v1h-1zM37 387h1v1h-1zM31 387h1v1h-1zM33 387h1v1h-1zM43 387h1v1h-1zM27 387h1v1h-1zM25 387h1v1h-1zM18 388h5v1h-5zM38 388h1v1h-1zM26 388h1v1h-1zM44 388h1v1h-1zM32 388h1v1h-1zM38 450h1v1h-1zM44 450h1v1h-1zM32 450h1v1h-1zM24 450h5v1h-5zM20 450h1v1h-1zM45 451h1v1h-1zM39 451h1v1h-1zM37 451h1v1h-1zM31 451h1v1h-1zM33 451h1v1h-1zM43 451h1v1h-1zM19 451h2v1h-2zM54 385h1v68h-1zM621 385h1v68h-1zM579 449h1v4h-1zM264 449h1v4h-1zM369 449h1v4h-1zM159 449h1v4h-1zM474 449h1v4h-1zM24 451h1v2h-1zM18 452h1v1h-1zM54 453h568v1h-568zM24 453h4v1h-4zM12 454h5v1h-5zM34 452h1v4h-1zM40 452h1v4h-1zM42 452h1v4h-1zM46 452h1v4h-1zM30 452h1v4h-1zM36 452h1v4h-1zM20 452h1v5h-1zM28 454h1v3h-1zM45 456h1v1h-1zM39 456h1v1h-1zM37 456h1v1h-1zM31 456h1v1h-1zM24 456h1v1h-1zM33 456h1v1h-1zM43 456h1v1h-1zM18 457h5v1h-5zM38 457h1v1h-1zM44 457h1v1h-1zM25 457h3v1h-3zM32 457h1v1h-1zM581 463h1v1h-1zM272 463h1v1h-1zM167 463h1v1h-1zM266 463h1v1h-1zM471 463h1v1h-1zM476 463h1v1h-1zM371 463h1v1h-1zM482 463h1v1h-1zM587 463h1v1h-1zM56 463h1v1h-1zM377 463h1v1h-1zM573 463h5v1h-5zM363 463h5v1h-5zM155 463h1v1h-1zM259 463h3v1h-3zM161 463h1v1h-1zM370 464h1v1h-1zM475 464h1v1h-1zM481 464h1v1h-1zM265 464h1v1h-1zM477 464h1v1h-1zM582 464h1v1h-1zM55 464h1v1h-1zM160 464h1v1h-1zM470 464h2v1h-2zM271 464h1v1h-1zM376 464h1v1h-1zM367 464h1v1h-1zM588 464h1v1h-1zM372 464h1v1h-1zM166 464h1v1h-1zM483 464h1v1h-1zM267 464h1v1h-1zM258 464h1v1h-1zM154 464h2v1h-2zM162 464h1v1h-1zM273 464h1v1h-1zM57 464h1v1h-1zM378 464h1v1h-1zM580 464h1v1h-1zM168 464h1v1h-1zM586 464h1v1h-1zM573 464h1v2h-1zM262 464h1v2h-1zM366 465h1v1h-1zM469 465h1v1h-1zM153 465h1v1h-1zM573 466h4v1h-4zM261 466h1v1h-1zM365 466h2v1h-2zM471 465h1v3h-1zM468 466h1v2h-1zM260 467h1v1h-1zM379 465h1v4h-1zM163 465h1v4h-1zM58 465h1v4h-1zM159 465h1v4h-1zM375 465h1v4h-1zM480 465h1v4h-1zM274 465h1v4h-1zM169 465h1v4h-1zM270 465h1v4h-1zM54 465h1v4h-1zM165 465h1v4h-1zM583 465h1v4h-1zM579 465h1v4h-1zM478 465h1v4h-1zM373 465h1v4h-1zM474 465h1v4h-1zM268 465h1v4h-1zM264 465h1v4h-1zM369 465h1v4h-1zM589 465h1v4h-1zM484 465h1v4h-1zM585 465h1v4h-1zM468 468h5v1h-5zM259 468h1v1h-1zM155 465h1v5h-1zM577 467h1v3h-1zM367 467h1v3h-1zM370 469h1v1h-1zM475 469h1v1h-1zM481 469h1v1h-1zM265 469h1v1h-1zM477 469h1v1h-1zM573 469h1v1h-1zM582 469h1v1h-1zM55 469h1v1h-1zM160 469h1v1h-1zM271 469h1v1h-1zM376 469h1v1h-1zM588 469h1v1h-1zM363 469h1v1h-1zM372 469h1v1h-1zM166 469h1v1h-1zM483 469h1v1h-1zM267 469h1v1h-1zM258 469h1v1h-1zM162 469h1v1h-1zM273 469h1v1h-1zM57 469h1v1h-1zM378 469h1v1h-1zM580 469h1v1h-1zM168 469h1v1h-1zM586 469h1v1h-1zM471 469h1v2h-1zM153 470h5v1h-5zM581 470h1v1h-1zM272 470h1v1h-1zM364 470h3v1h-3zM167 470h1v1h-1zM266 470h1v1h-1zM482 470h1v1h-1zM258 470h5v1h-5zM371 470h1v1h-1zM574 470h3v1h-3zM587 470h1v1h-1zM56 470h1v1h-1zM476 470h1v1h-1zM377 470h1v1h-1zM161 470h1v1h-1z"/></svg></body></html>
